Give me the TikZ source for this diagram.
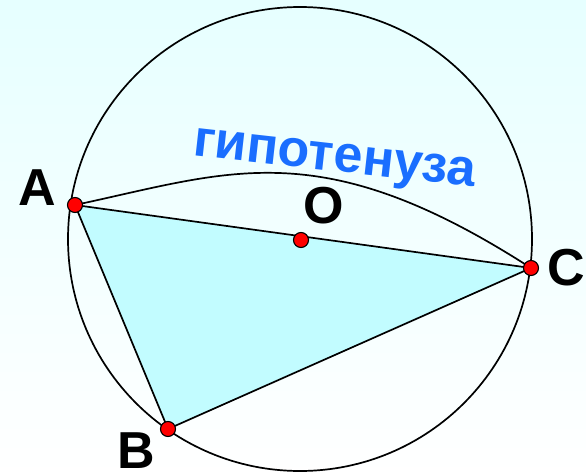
\documentclass[tikz,border=0pt]{standalone}
\usepackage{fontspec}
\setmainfont{Liberation Sans}
\definecolor{Fondo}{HTML}{E6FFFF}
\definecolor{Turquesa}{HTML}{C2FCFF}
\definecolor{Azul}{HTML}{1A6EFF}
\definecolor{Rojo}{HTML}{FF0000}
\begin{document}
\begin{tikzpicture}[
    x=1pt,y=-1pt,
    every node/.style={font=\bfseries\fontsize{52}{52}\selectfont},
    punto/.style={circle,draw=black,line width=1.1pt,fill=Rojo,inner sep=0pt,minimum size=15pt},
    linea/.style={draw=black,line width=1.7pt},
    etiqueta/.style={text=black,inner sep=0pt}
  ]
    \useasboundingbox (0,0) rectangle (586,476);
    \fill[top color=Fondo,bottom color=white] (0,0) rectangle (586,476);
    \coordinate (A) at (75,205);
    \coordinate (B) at (168,429);
    \coordinate (C) at (531,268);
    \coordinate (O) at (301,240);
    \fill[Turquesa] (A) -- (B) -- (C) -- cycle;
    \draw[linea] (300,239) circle[radius=232];
    \draw[linea] (A) -- (B) -- (C) -- cycle;
    \draw[linea] (A) .. controls (230,172) and (320,132) .. (C);
    \node[text=Azul,rotate=-6.4,anchor=base,inner sep=0pt] (hip) at (333,171) {гипотенуза};
    \node[punto] (pA) at (A) {};
    \node[punto] (pB) at (B) {};
    \node[punto] (pC) at (C) {};
    \node[punto] (pO) at (O) {};
    \node[etiqueta] (lA) at (37,188) {A};
    \node[etiqueta] (lB) at (136,451) {B};
    \node[etiqueta] (lC) at (566,268) {C};
    \node[etiqueta] (lO) at (324,206) {O};
  \end{tikzpicture}
\end{document}
